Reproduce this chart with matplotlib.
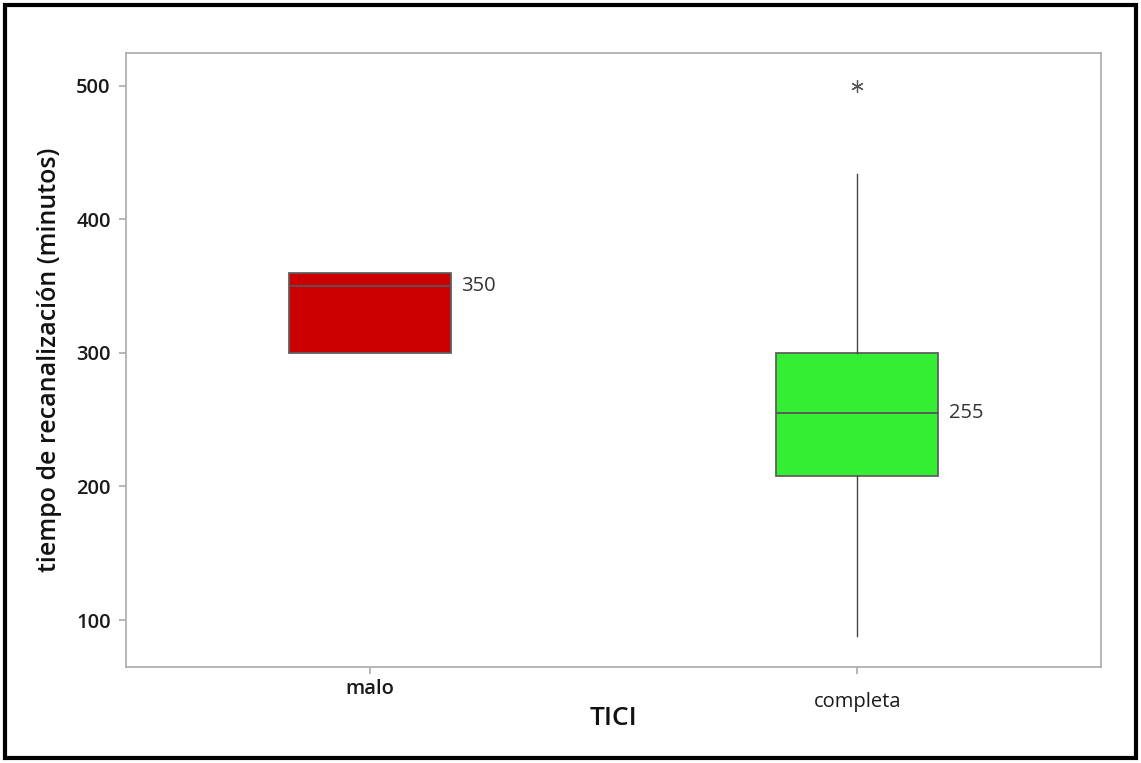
import matplotlib
matplotlib.use("Agg")
import matplotlib.pyplot as plt
from matplotlib.patches import Rectangle

categories = ["malo", "completa"]
q1 = [300, 208]
medians = [350, 255]
q3 = [360, 300]
whislo = [300, 88]
whishi = [360, 434]
fliers = [[], [500]]
colors = ["#CC0000", "#33EE33"]
yticks = [100, 200, 300, 400, 500]

plt.rcParams['font.family'] = ['Open Sans', 'DejaVu Sans']

fig = plt.figure(figsize=(11.41, 7.63), dpi=100)
ax = fig.add_axes([126/1141, 1-667/763, 975/1141, 614/763])

stats = []
for i, c in enumerate(categories):
    stats.append(dict(label=c, q1=q1[i], med=medians[i], q3=q3[i],
                      whislo=whislo[i], whishi=whishi[i], fliers=fliers[i]))

bp = ax.bxp(stats, positions=range(len(categories)), widths=0.332,
            patch_artist=True, showcaps=False,
            boxprops=dict(edgecolor="#606060", linewidth=1.3),
            medianprops=dict(color="#555555", linewidth=1.3),
            whiskerprops=dict(color="#444444", linewidth=1.0),
            flierprops=dict(marker=(6, 2, 0), markersize=9, markeredgecolor="#555555",
                            markeredgewidth=0.9, linestyle="none"))
for patch, col in zip(bp['boxes'], colors):
    patch.set_facecolor(col)

for i, m in enumerate(medians):
    ax.text(i + 0.166 + 0.022, m, f"{m}", va="center", ha="left",
            fontsize=14.5, color="#333333")

ax.set_xlim(-0.5, 1.5)
ax.set_ylim(64.8, 524.7)
ax.set_yticks(yticks)
ax.set_yticklabels([str(t) for t in yticks])
ax.set_xticks(range(len(categories)))
ax.set_xticklabels(categories)

for s in ax.spines.values():
    s.set_color("#AAAAAA")
    s.set_linewidth(1.2)
ax.tick_params(axis="both", colors="#AAAAAA", length=5, width=1.2, direction="out")
for lab in ax.get_yticklabels():
    lab.set_color("#1a1a1a")
    lab.set_fontsize(14.5)
    lab.set_fontweight("semibold")
xlabs = ax.get_xticklabels()
for lab, w in zip(xlabs, ["semibold", "normal"]):
    lab.set_color("#1a1a1a")
    lab.set_fontsize(14.5)
    lab.set_fontweight(w)
ax.tick_params(axis="y", pad=6)
xt = ax.xaxis.get_major_ticks()
xt[0].set_pad(4)
xt[1].set_pad(13)

ax.set_ylabel("tiempo de recanalización (minutos)", fontsize=18, fontweight="semibold",
              color="#111111", labelpad=10)
ax.set_xlabel("TICI", fontsize=19, fontweight="semibold", color="#111111", labelpad=-4)

fig.patches.append(Rectangle((5/1141, 5/763), 1131/1141, 753/763, transform=fig.transFigure,
                             fill=False, edgecolor="black", linewidth=3))

fig.savefig("out.png", dpi=100)
